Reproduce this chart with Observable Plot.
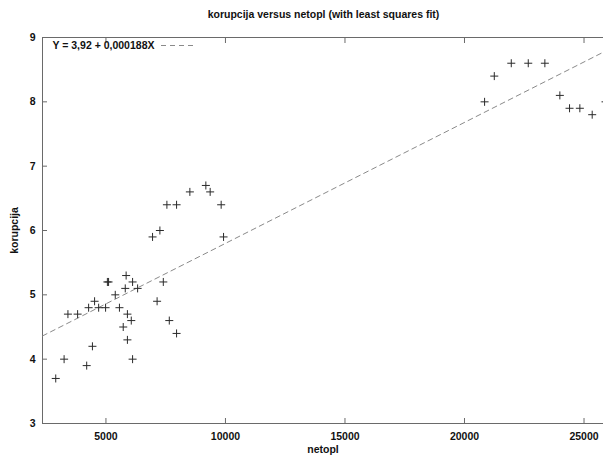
<!DOCTYPE html>
<html><head><meta charset="utf-8">
<script src="https://cdn.jsdelivr.net/npm/d3@7"></script>
<script src="https://cdn.jsdelivr.net/npm/@observablehq/plot@0.6"></script>
<style>
body{margin:0;background:#fff;font-family:"Liberation Sans",Arial,sans-serif;}
#title{height:26px;line-height:28px;text-align:center;font-size:10.5px;font-weight:bold;color:#111;padding-left:44px;box-sizing:border-box;width:603px;}
#chart svg{display:block;}
</style></head><body>
<div id="title">korupcija versus netopl (with least squares fit)</div>
<div id="chart"></div>
<script>
const netopl = [2900, 3250, 3410, 3815, 4195, 4435, 4275, 4525, 4695, 4985, 5060, 5110, 5390, 5565, 5845, 5808, 6115, 6325, 5898, 6060, 5723, 5898, 6115, 7140, 7400, 7650, 7955, 6950, 7257, 7550, 7955, 8511, 9180, 9360, 9820, 9920, 20840, 21246, 21957, 22667, 23362, 23989, 24394, 24826, 25342, 25900];
const korupcija = [3.7, 4.0, 4.7, 4.7, 3.9, 4.2, 4.8, 4.9, 4.8, 4.8, 5.2, 5.2, 5.0, 4.8, 5.3, 5.1, 5.2, 5.1, 4.7, 4.6, 4.5, 4.3, 4.0, 4.9, 5.2, 4.6, 4.4, 5.9, 6.0, 6.4, 6.4, 6.6, 6.7, 6.6, 6.4, 5.9, 8.0, 8.4, 8.6, 8.6, 8.6, 8.1, 7.9, 7.9, 7.8, 8.0];
const xTicks = [5000, 10000, 15000, 20000, 25000];
const yTicks = [3, 4, 5, 6, 7, 8, 9];
const xDomain = [2346, 25815];
const yDomain = [3, 9];
const fitIntercept = 3.92;
const fitSlope = 0.000188;
const legendLabel = "Y = 3,92 + 0,000188X";
const xLabel = "netopl";
const yLabel = "korupcija";

const points = netopl.map((x, i) => ({x, y: korupcija[i]}));
const fit = xDomain.map(x => ({x, y: fitIntercept + fitSlope * x}));
const axisColor = "#6a6a6a";
const blank = () => "";

const chart = Plot.plot({
  width: 603, height: 433,
  marginTop: 11, marginBottom: 36, marginLeft: 42, marginRight: 0,
  style: {fontFamily: "'Liberation Sans', Arial, sans-serif", fontSize: "10.5px", fontWeight: "bold", color: "#111", background: "#fff", overflow: "hidden"},
  x: {domain: xDomain},
  y: {domain: yDomain},
  marks: [
    Plot.ruleX([xDomain[0]], {stroke: axisColor}),
    Plot.ruleY(yDomain, {stroke: axisColor}),
    Plot.axisX(xTicks, {anchor: "bottom", tickSize: -5, tickFormat: blank, label: null, stroke: axisColor}),
    Plot.axisX(xTicks, {anchor: "top", tickSize: -5, tickFormat: blank, label: null, stroke: axisColor}),
    Plot.axisX(xTicks, {anchor: "bottom", tickSize: 0, tickPadding: 9, tickFormat: d => String(d), label: xLabel, labelAnchor: "center", labelOffset: 29, labelArrow: "none"}),
    Plot.axisY(yTicks, {anchor: "left", tickSize: -5, tickFormat: blank, label: null, stroke: axisColor}),
    Plot.axisY(yTicks, {anchor: "left", tickSize: 0, tickPadding: 7, tickFormat: d => String(d), label: yLabel, labelAnchor: "center", labelOffset: 32, labelArrow: "none"}),
    Plot.line(fit, {x: "x", y: "y", stroke: "#8a8a8a", strokeWidth: 1, strokeDasharray: "5,4"}),
    Plot.dot(points, {x: "x", y: "y", symbol: "plus", r: 2.7, stroke: "#2a2a2a", strokeWidth: 1}),
    Plot.text([legendLabel], {frameAnchor: "top-left", dx: 10, dy: 8, textAnchor: "start", lineAnchor: "middle", fill: "#111"})
  ]
});
const svg = d3.select(chart);
svg.append("line").attr("x1", 161).attr("x2", 197).attr("y1", 19.5).attr("y2", 19.5)
  .attr("stroke", "#8a8a8a").attr("stroke-dasharray", "5,4");
document.getElementById("chart").append(chart);
</script>
</body></html>
